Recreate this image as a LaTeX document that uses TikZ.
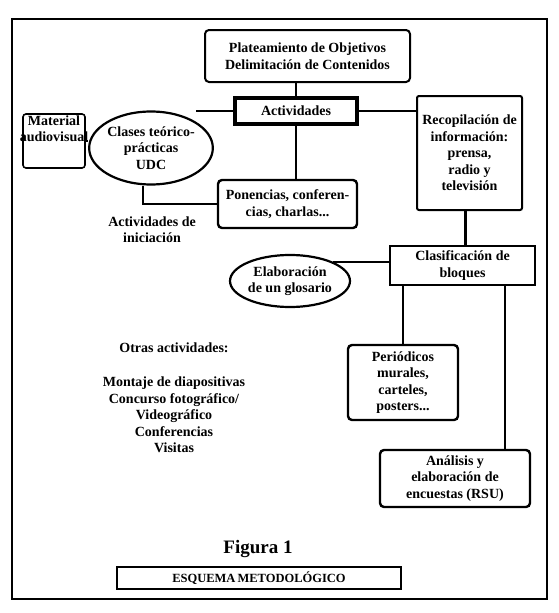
\documentclass[tikz,border=0pt]{standalone}
\usepackage{fontspec}
\setmainfont{Liberation Serif}
\usetikzlibrary{positioning,calc,shapes.geometric}
\newcommand{\esqfont}{\bfseries\fontsize{14}{16.5}\selectfont}
\tikzset{
  % cajas
  caja/.style={draw=black,line width=2pt,rounded corners=4pt,align=center,
               inner sep=1pt,font=\esqfont},
  cajad/.style={draw=black,line width=#1,align=center,inner sep=1pt,font=\esqfont},
  elip/.style={ellipse,draw=black,line width=2.2pt,align=center,inner sep=0pt,
               font=\esqfont},
  txt/.style={align=center,inner sep=0pt,font=\esqfont},
  % conectores
  fina/.style={draw=black,line width=1.2pt},
  media/.style={draw=black,line width=1.8pt},
  gruesa/.style={draw=black,line width=2.8pt},
}
\begin{document}
\begin{tikzpicture}[x=1pt,y=-1pt]
\useasboundingbox (0,0) rectangle (559,613);
  \draw[line width=2pt] (12,19) rectangle (547,599);
  \node[caja,minimum width=205,minimum height=52] (plan) at (307.5,56)
    {Plateamiento de Objetivos\\Delimitación de Contenidos};
  \node[cajad=3.8pt,minimum width=122,minimum height=26] (act) at (296,111) {Actividades};
  \node[elip,minimum width=112,minimum height=73] (clases) at (151,148)
    {Clases teórico-\\prácticas\\UDC};
  \node[caja,line width=1.6pt,rounded corners=3pt,minimum width=62,minimum height=54,
    label={[txt,anchor=north,yshift=-2pt]north:{Material\\audiovisual}}] (mat) at (54,141) {};
  \node[caja,line width=2.4pt,minimum width=139,minimum height=48] (pon) at (287.5,204)
    {Ponencias, conferen-\\cias, charlas...};
  \node[txt] (inic) at (152,229.5) {Actividades de\\iniciación};
  \node[caja,rounded corners=2pt,minimum width=105,minimum height=114] (recop) at (469.5,153)
    {Recopilación de\\información:\\prensa,\\radio y\\televisión};
  \node[cajad=2.8pt,minimum width=145,minimum height=39] (clasif) at (462.5,265.5)
    {Clasificación de\\bloques};
  \node[elip,minimum width=120,minimum height=52] (glos) at (290,281)
    {Elaboración\\de un glosario};
  \node[caja,line width=2.4pt,minimum width=110,minimum height=75] (peri) at (403,382.5)
    {Periódicos\\murales,\\carteles,\\posters...};
  \node[caja,line width=2.4pt,minimum width=150,minimum height=57] (anal) at (455,478.5)
    {Análisis y\\elaboración de\\encuestas (RSU)};
  \node[txt] (otras) at (174,348) {Otras actividades:};
  \node[txt] (lista) at (174,415)
    {Montaje de diapositivas\\Concurso fotográfico/\\Videográfico\\Conferencias\\Visitas};
  \node[txt,font=\bfseries\fontsize{19}{22}\selectfont] (fig) at (258,549) {Figura 1};
  \node[draw=black,line width=1.4pt,minimum width=284,minimum height=22,inner sep=0pt,
    font=\bfseries\fontsize{12.5}{14}\selectfont] (esq) at (259,578) {ESQUEMA\,METODOLÓGICO};
  \draw[fina] (act.north) -- (act.north |- plan.south);
  \draw[fina] (act.south) -- (act.south |- pon.north);
  \draw[media] (act.west) -- (act.west -| clases.north east);
  \draw[gruesa] (mat.east) -- (mat.east -| clases.west);
  \draw[media] ([xshift=-8pt]clases.south) |- (pon.west);
  \draw[media] (act.east) -- (act.east -| recop.west);
  \draw[gruesa] ([xshift=-4pt]recop.south) -- ([xshift=-4pt]recop.south |- clasif.north);
  \draw[media] (glos.north east) -- (glos.north east -| clasif.west);
  \draw[gruesa] (peri.north) -- (peri.north |- clasif.south);
  \draw[gruesa] ([xshift=50pt]anal.north) -- ([xshift=50pt]anal.north |- clasif.south);
\end{tikzpicture}
\end{document}
